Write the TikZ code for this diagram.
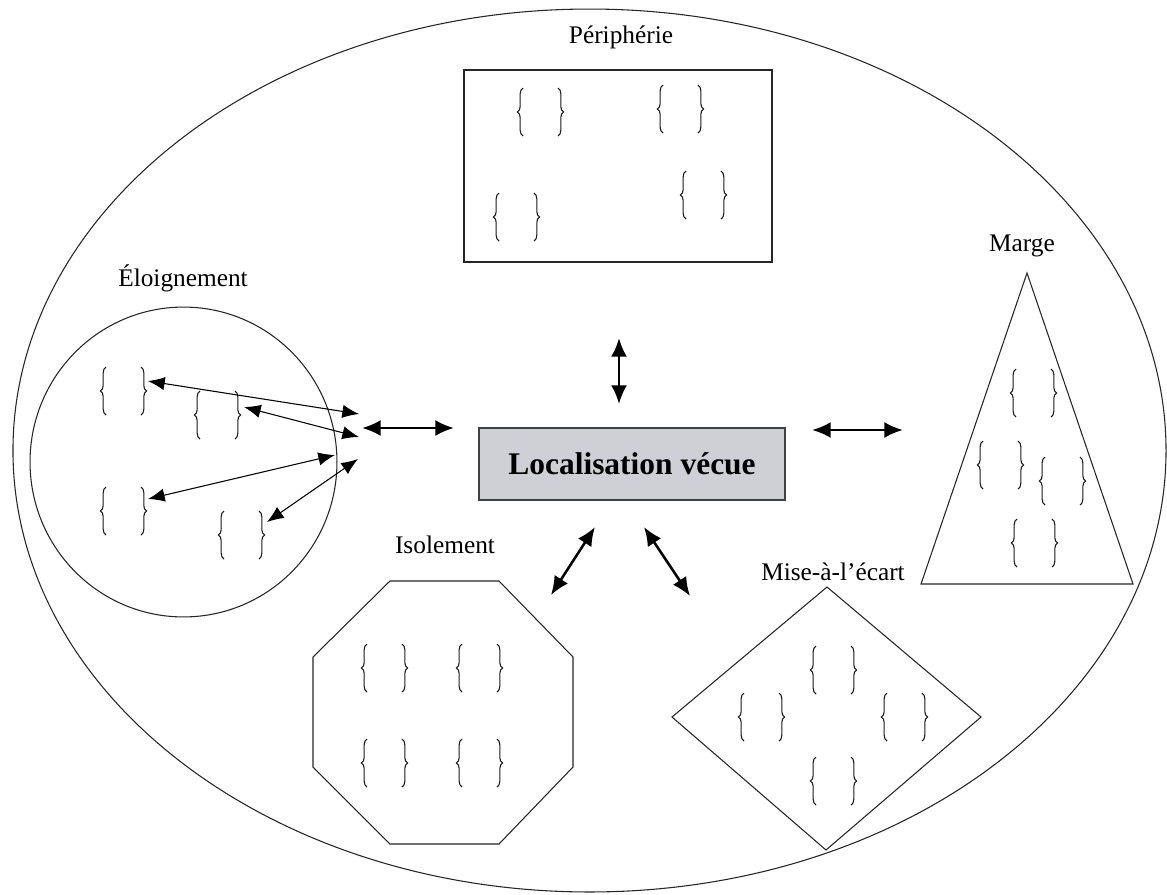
\documentclass[tikz,border=0pt]{standalone}
\usepackage{fontspec}
\setmainfont{Liberation Serif}
\usetikzlibrary{arrows.meta,decorations.pathreplacing}
\definecolor{boxgray}{RGB}{206,208,213}
\begin{document}
\begin{tikzpicture}[x=0.75pt,y=-0.75pt,
  shapeline/.style={draw=black!85, line width=0.8pt},
  braceline/.style={draw=black!90, line width=0.8pt, decorate, decoration={brace,amplitude=4.2pt}},
  lbl/.style={font=\fontsize{19}{22}\selectfont, inner sep=0pt},
  bigarrow/.style={line width=1.9pt, {Latex[length=14pt,width=12pt]}-{Latex[length=14pt,width=12pt]}},
  smallarrow/.style={line width=0.8pt, {Latex[length=12.5pt,width=10pt]}-{Latex[length=12.5pt,width=10pt]}},
  bp/.pic={\draw[braceline] (6,48) -- (6,0); \draw[braceline] (41,0) -- (41,48);}
]
\useasboundingbox (0,0) rectangle (1167,894);

% outer ellipse
\draw[shapeline] (589.5,450.5) ellipse [x radius=432.4pt, y radius=331.1pt];

% Peripherie
\node[lbl] (lper) at (621,37) {Périphérie};
\draw[shapeline] (464,70) rectangle (772,262);
\pic at (517,88) {bp};
\pic at (657,85) {bp};
\pic at (493,193) {bp};
\pic at (680,171) {bp};

% Eloignement
\node[lbl] (lelo) at (183,278) {Éloignement};
\draw[shapeline] (183.5,462) ellipse [x radius=115.1pt, y radius=116.2pt];
\pic at (100,367) {bp};
\pic at (194,391) {bp};
\pic at (100,487) {bp};
\pic at (218,511) {bp};
\coordinate (e1a) at (148,381); \coordinate (e1b) at (359,414);
\coordinate (e2a) at (244,407); \coordinate (e2b) at (359,437);
\coordinate (e3a) at (148,499); \coordinate (e3b) at (335,455);
\coordinate (e4a) at (267,522); \coordinate (e4b) at (358,459);
\draw[smallarrow] (e1a) -- (e1b);
\draw[smallarrow] (e2a) -- (e2b);
\draw[smallarrow] (e3a) -- (e3b);
\draw[smallarrow] (e4a) -- (e4b);

% Marge
\node[lbl] (lmar) at (1022,246) {Marge};
\draw[shapeline] (1027,273) -- (921,584) -- (1133,584) -- cycle;
\pic at (1010,369) {bp};
\pic at (977,441) {bp};
\pic at (1039,457) {bp};
\pic at (1011,519) {bp};

% Isolement
\node[lbl] (liso) at (445,545) {Isolement};
\draw[shapeline] (390,581) -- (499,581) -- (573,657) -- (573,767) -- (499,844) -- (390,844) -- (313,767) -- (313,657) -- cycle;
\pic at (361,644) {bp};
\pic at (456,644) {bp};
\pic at (361,739) {bp};
\pic at (456,739) {bp};

% Mise-a-l'ecart
\node[lbl] (lmis) at (833,572) {Mise-à-l’écart};
\draw[shapeline] (827,587) -- (981,717) -- (826,850) -- (672,717) -- cycle;
\pic at (810,646) {bp};
\pic at (738,693) {bp};
\pic at (881,693) {bp};
\pic at (810,757) {bp};

% center
\node[draw=black!75, line width=1.5pt, fill=boxgray, minimum width=229pt, minimum height=54pt, inner sep=0pt,
      font=\fontsize{23.6}{28}\selectfont\bfseries] (loc) at (632,464) {Localisation vécue};

% main arrows
\coordinate (tA) at (619,338); \coordinate (tB) at (619,404);
\coordinate (lA) at (362,428); \coordinate (lB) at (454,428);
\coordinate (rA) at (812,430); \coordinate (rB) at (903,430);
\coordinate (blA) at (595,527); \coordinate (blB) at (551,595);
\coordinate (brA) at (644,527); \coordinate (brB) at (690,596);
\draw[bigarrow] (tA) -- (tB);
\draw[bigarrow] (lA) -- (lB);
\draw[bigarrow] (rA) -- (rB);
\draw[bigarrow] (blA) -- (blB);
\draw[bigarrow] (brA) -- (brB);
\end{tikzpicture}
\end{document}
